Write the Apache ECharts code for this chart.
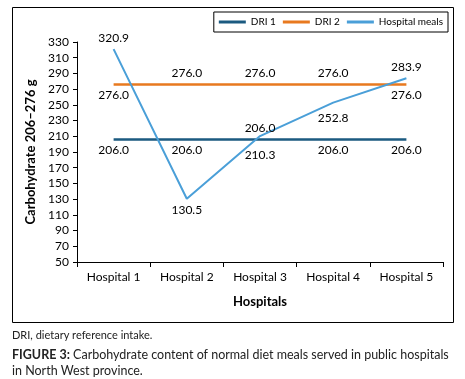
<!DOCTYPE html>
<html>
<head>
<meta charset="utf-8">
<script src="https://cdn.jsdelivr.net/npm/echarts@6/dist/echarts.min.js"></script>
<style>
  html, body { margin: 0; padding: 0; background: #fff; }
  #main { width: 465px; height: 379px; }
</style>
</head>
<body>
<div id="main"></div>
<script>
var categories = ['Hospital 1', 'Hospital 2', 'Hospital 3', 'Hospital 4', 'Hospital 5'];
var dri1 = [206.0, 206.0, 206.0, 206.0, 206.0];
var dri2 = [276.0, 276.0, 276.0, 276.0, 276.0];
var hospitalMeals = [320.9, 130.5, 210.3, 252.8, 283.9];
// label side per point, as in the picture
var dri1Pos = ['bottom', 'bottom', 'top', 'bottom', 'bottom'];
var dri2Pos = ['bottom', 'top', 'top', 'top', 'bottom'];
var mealsPos = ['top', 'bottom', 'bottom', 'bottom', 'top'];
// extra vertical nudge of some labels (px)
var mealsNudge = [0, 0, 8, 4, 0];

var font = 'Lato';

function withLabels(values, positions) {
    return values.map(function (v, i) {
        return { value: v, label: { position: positions[i] } };
    });
}

function lineSeries(name, values, positions, width, nudge) {
    return {
        name: name,
        type: 'line',
        symbol: 'circle',
        symbolSize: 0.1,
        lineStyle: { width: width },
        labelLayout: function (p) {
            return { hideOverlap: false, dy: nudge ? nudge[p.dataIndex] : 0 };
        },
        label: {
            show: true,
            distance: 5,
            fontFamily: font,
            fontSize: 12,
            color: '#000',
            formatter: (p) => p.value.toFixed(1)
        },
        data: withLabels(values, positions)
    };
}

var myChart = echarts.init(document.getElementById('main'));
var option;

option = {
    animation: false,
    textStyle: { fontFamily: font },
    color: ['#1B5A80', '#E8791F', '#4A9FD8'],
    legend: {
        right: 17,
        top: 12,
        itemWidth: 27,
        itemHeight: 3,
        itemGap: 7,
        padding: [5, 5, 5, 5],
        borderColor: '#000',
        borderWidth: 1,
        icon: 'rect',
        textStyle: { fontFamily: font, fontSize: 10, color: '#000' },
        data: ['DRI 1', 'DRI 2', 'Hospital meals']
    },
    grid: {
        left: 77,
        right: 22,
        top: 42,
        bottom: 117
    },
    xAxis: {
        type: 'category',
        data: categories,
        boundaryGap: true,
        name: 'Hospitals',
        nameLocation: 'middle',
        nameGap: 33,
        nameTextStyle: { fontFamily: font, fontSize: 13, fontWeight: 'bold', color: '#000' },
        axisLine: { lineStyle: { color: '#000', width: 1 } },
        axisTick: { show: true, length: 5, lineStyle: { color: '#000' } },
        axisLabel: { margin: 9, fontFamily: font, fontSize: 12, color: '#000' },
        splitLine: { show: false }
    },
    yAxis: {
        type: 'value',
        min: 50,
        max: 330,
        interval: 20,
        name: 'Carbohydrate 206–276 g',
        nameLocation: 'middle',
        nameGap: 40,
        nameTextStyle: { fontFamily: font, fontSize: 13, fontWeight: 'bold', color: '#000' },
        axisLine: { show: true, lineStyle: { color: '#000', width: 1 } },
        axisTick: { show: true, length: 4, lineStyle: { color: '#000' } },
        axisLabel: { margin: 8, fontFamily: font, fontSize: 12, color: '#000' },
        splitLine: { show: false }
    },
    series: [
        lineSeries('DRI 1', dri1, dri1Pos, 2.5),
        lineSeries('DRI 2', dri2, dri2Pos, 2.5),
        lineSeries('Hospital meals', hospitalMeals, mealsPos, 2, mealsNudge)
    ],
    graphic: [
        {
            type: 'rect',
            silent: true,
            shape: { x: 12.5, y: 7.5, width: 441, height: 315 },
            style: { fill: 'none', stroke: '#000', lineWidth: 1 }
        },
        {
            type: 'text',
            left: 12,
            top: 330,
            style: {
                text: 'DRI, dietary reference intake.',
                font: '11px Lato',
                fill: '#222'
            }
        },
        {
            type: 'text',
            left: 12,
            top: 347,
            style: {
                text: '{b|FIGURE 3:} Carbohydrate content of normal diet meals served in public hospitals\nin North West province.',
                font: '12.5px Lato',
                fill: '#222',
                lineHeight: 16,
                rich: {
                    b: { fontWeight: 'bold', fontFamily: font, fontSize: 12.5, fill: '#222', lineHeight: 16 }
                }
            }
        }
    ]
};
option && myChart.setOption(option);
</script>
</body>
</html>
